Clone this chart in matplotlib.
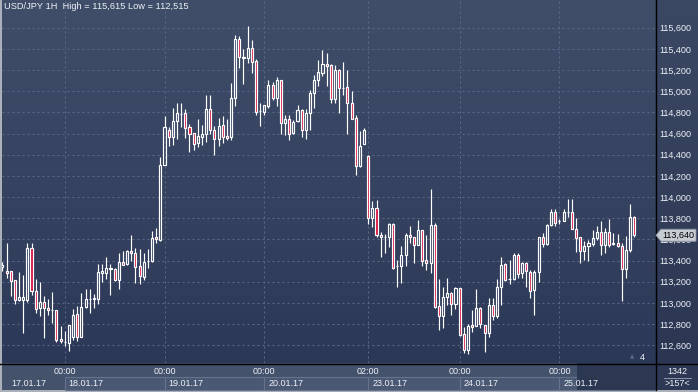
"""
USD/JPY 1H candlestick chart (17.01.17 - 25.01.17), terminal style.
"""

import numpy as np
import matplotlib
matplotlib.use("Agg")
import matplotlib.pyplot as plt
from matplotlib.colors import LinearSegmentedColormap
from matplotlib.patches import Rectangle, Polygon
from matplotlib.lines import Line2D
from matplotlib.transforms import blended_transform_factory, ScaledTranslation

plt.rcParams["font.family"] = ["Liberation Sans", "DejaVu Sans"]

# hourly candles
opens = [
    113.34, 113.30, 113.30, 113.22, 113.03, 113.03, 113.03, 113.52, 113.11, 112.95,
    113.01, 112.95, 112.935, 112.93, 112.657, 112.635, 112.62, 112.68, 112.90, 112.68,
    112.96, 113.04, 113.041, 113.035, 113.28, 113.28, 113.318, 113.32, 113.22, 113.39,
    113.365, 113.494, 113.47, 113.35, 113.25, 113.394, 113.40, 113.62, 113.595, 114.30,
    114.63, 114.565, 114.72, 114.785, 114.79, 114.66, 114.61, 114.51, 114.57, 114.60,
    114.83, 114.63, 114.545, 114.68, 114.575, 114.565, 114.94, 115.49, 115.32, 115.31,
    115.405, 115.29, 114.815, 114.805, 114.86, 115.06, 114.94, 115.105, 114.70, 114.735,
    114.61, 114.72, 114.82, 114.63, 114.79, 114.98, 115.105, 115.175, 115.255, 115.25,
    114.925, 115.205, 115.035, 115.04, 114.885, 114.745, 114.29, 114.50, 114.39, 113.80,
    113.895, 113.64, 113.622, 113.62, 113.745, 113.35, 113.35, 113.455, 113.64, 113.62,
    113.545, 113.685, 113.405, 113.375, 113.735, 112.97, 112.875, 113.055, 113.095, 112.995,
    113.14, 112.705, 112.56, 112.79, 112.78, 112.95, 112.79, 112.72, 112.98, 112.875,
    113.155, 113.37, 113.223, 113.23, 113.455, 113.28, 113.375, 113.295, 113.12, 113.295,
    113.62, 113.555, 113.735, 113.855, 113.777, 113.778, 113.862, 113.855, 113.695, 113.62,
    113.49, 113.54, 113.555, 113.61, 113.675, 113.545, 113.675, 113.555, 113.57, 113.54,
    113.32, 113.50, 113.81,
]
highs = [
    113.39, 113.57, 113.30, 113.22, 113.29, 113.26, 113.57, 113.57, 113.23, 113.20,
    113.07, 113.04, 113.10, 112.93, 112.78, 112.74, 112.79, 112.94, 112.97, 113.09,
    113.13, 113.13, 113.085, 113.37, 113.37, 113.43, 113.37, 113.33, 113.47, 113.49,
    113.50, 113.645, 113.52, 113.51, 113.47, 113.51, 113.68, 113.705, 114.38, 114.77,
    114.66, 114.84, 114.89, 114.89, 114.83, 114.69, 114.61, 114.735, 114.68, 114.965,
    114.965, 114.67, 114.745, 114.765, 114.735, 115.075, 115.53, 115.52, 115.395, 115.615,
    115.48, 115.30, 114.89, 114.87, 115.105, 115.09, 115.13, 115.105, 114.775, 114.775,
    114.73, 114.87, 114.83, 114.83, 115.01, 115.155, 115.295, 115.39, 115.36, 115.255,
    115.25, 115.21, 115.275, 115.20, 115.00, 114.775, 114.62, 114.65, 114.40, 113.965,
    113.97, 113.675, 113.65, 113.76, 113.76, 113.405, 113.54, 113.66, 113.73, 113.62,
    113.785, 113.685, 113.64, 114.075, 113.76, 113.225, 113.15, 113.235, 113.105, 113.15,
    113.14, 112.77, 112.80, 112.935, 113.13, 112.965, 112.79, 113.045, 113.045, 113.225,
    113.43, 113.38, 113.405, 113.47, 113.475, 113.39, 113.39, 113.31, 113.31, 113.625,
    113.665, 113.745, 113.885, 113.885, 113.79, 113.885, 113.98, 113.98, 113.80, 113.625,
    113.59, 113.595, 113.685, 113.725, 113.77, 113.705, 113.79, 113.665, 113.65, 113.57,
    113.63, 113.935, 113.82,
]
lows = [
    113.30, 113.24, 113.07, 112.99, 113.02, 112.72, 113.01, 113.08, 112.91, 112.88,
    112.67, 112.89, 112.81, 112.635, 112.62, 112.59, 112.55, 112.65, 112.64, 112.68,
    112.95, 112.91, 112.95, 112.99, 113.20, 113.23, 113.08, 113.21, 113.135, 113.355,
    113.36, 113.40, 113.19, 113.18, 113.22, 113.33, 113.39, 113.565, 113.59, 114.30,
    114.48, 114.49, 114.55, 114.665, 114.555, 114.43, 114.445, 114.47, 114.49, 114.52,
    114.60, 114.40, 114.48, 114.515, 114.535, 114.535, 114.86, 115.215, 115.065, 115.265,
    115.17, 114.775, 114.67, 114.775, 114.84, 114.915, 114.86, 114.60, 114.585, 114.535,
    114.60, 114.71, 114.57, 114.545, 114.635, 114.84, 115.045, 115.145, 115.045, 114.89,
    114.885, 114.79, 114.965, 114.60, 114.735, 114.21, 114.285, 114.50, 113.75, 113.72,
    113.62, 113.43, 113.475, 113.53, 113.325, 113.155, 113.19, 113.35, 113.57, 113.38,
    113.545, 113.35, 113.31, 113.28, 112.95, 112.745, 112.76, 112.98, 112.885, 112.94,
    112.69, 112.525, 112.515, 112.73, 112.78, 112.76, 112.54, 112.68, 112.84, 112.855,
    112.98, 113.21, 113.18, 113.215, 113.24, 113.24, 113.155, 113.045, 112.885, 113.20,
    113.53, 113.545, 113.725, 113.725, 113.745, 113.77, 113.815, 113.695, 113.485, 113.375,
    113.41, 113.40, 113.54, 113.595, 113.455, 113.475, 113.53, 113.545, 113.53, 113.02,
    113.24, 113.485, 113.62,
]
closes = [
    113.36, 113.28, 113.21, 113.03, 113.06, 113.06, 113.52, 113.11, 112.94, 113.01,
    112.95, 112.93, 112.93, 112.65, 112.644, 112.629, 112.79, 112.89, 112.68, 112.96,
    113.04, 113.042, 113.043, 113.29, 113.30, 113.33, 113.327, 113.22, 113.39, 113.36,
    113.49, 113.472, 113.34, 113.255, 113.39, 113.396, 113.61, 113.60, 114.30, 114.66,
    114.565, 114.72, 114.79, 114.786, 114.65, 114.60, 114.50, 114.58, 114.60, 114.83,
    114.63, 114.545, 114.67, 114.565, 114.555, 114.94, 115.49, 115.32, 115.31, 115.405,
    115.28, 114.80, 114.817, 114.87, 115.06, 114.94, 115.105, 114.70, 114.735, 114.60,
    114.71, 114.82, 114.63, 114.79, 114.98, 115.105, 115.185, 115.255, 115.24, 114.925,
    115.205, 115.03, 115.033, 114.885, 114.735, 114.29, 114.485, 114.63, 113.80, 113.895,
    113.64, 113.62, 113.62, 113.745, 113.335, 113.35, 113.455, 113.64, 113.62, 113.545,
    113.685, 113.40, 113.375, 113.735, 112.965, 112.875, 113.055, 113.095, 112.99, 113.14,
    112.70, 112.56, 112.78, 112.77, 112.95, 112.80, 112.715, 112.98, 112.875, 113.15,
    113.36, 113.215, 113.222, 113.455, 113.275, 113.375, 113.305, 113.115, 113.295, 113.62,
    113.555, 113.735, 113.855, 113.76, 113.778, 113.86, 113.863, 113.695, 113.61, 113.49,
    113.54, 113.565, 113.61, 113.675, 113.545, 113.675, 113.545, 113.57, 113.54, 113.32,
    113.50, 113.81, 113.64,
]

grid_idx = [15, 39, 63, 88, 110, 134]          # candle index of each session start
time_labels = ["00:00", "00:00", "00:00", "02:00", "00:00", "00:00"]
date_labels = ["17.01.17", "18.01.17", "19.01.17", "20.01.17",
               "23.01.17", "24.01.17", "25.01.17"]
price_ticks = [112.6, 112.8, 113.0, 113.2, 113.4, 113.6, 113.8,
               114.0, 114.2, 114.4, 114.6, 114.8, 115.0, 115.2, 115.4, 115.6]
title = "USD/JPY 1H  High = 115,615 Low = 112,515"

W, H = 698, 392
TXT = "#eef2f7"
GRID = "#5b6a87"
FS = 6.5


def fx(px):
    return px / W


def fy(py):
    return 1 - py / H


def gradient_panel(rect, top, bottom):
    """Axes filled with a vertical colour gradient, no decorations."""
    pa = fig.add_axes(rect)
    cmap = LinearSegmentedColormap.from_list("g", [bottom, top])
    pa.imshow(np.linspace(0, 1, 256).reshape(-1, 1), origin="lower",
              aspect="auto", cmap=cmap, extent=[0, 1, 0, 1])
    pa.set_axis_off()
    return pa


fig = plt.figure(figsize=(W / 100, H / 100), dpi=100)
fig.patch.set_facecolor("#aab1bb")

# right price panel (drawn before main axes so tick labels stay on top)
gradient_panel([fx(655), fy(363), fx(43), 363 / H], "#3b4863", "#2b3653")

ax = fig.add_axes([fx(2), fy(363), fx(653), 363 / H])
xlim = (-0.1, 157.0)
ylim = (112.433, 115.862)
bg = LinearSegmentedColormap.from_list("bg", ["#2c3857", "#404e6a"])
ax.imshow(np.linspace(0, 1, 256).reshape(-1, 1), origin="lower", aspect="auto",
          cmap=bg, extent=[xlim[0], xlim[1], ylim[0], ylim[1]], zorder=0)

# candles
o, h, l, c = map(np.asarray, (opens, highs, lows, closes))
x = np.arange(len(o))
top = np.maximum(o, c)
bot = np.minimum(o, c)
up = c >= o
ax.vlines(x, top, h, color="white", lw=0.85, zorder=3)
ax.vlines(x, l, bot, color="white", lw=0.85, zorder=3)
ax.bar(x, np.maximum(top - bot, 0.002), bottom=bot, width=0.5,
       color=["none" if u else "#d81540" for u in up],
       edgecolor="white", linewidth=0.85, zorder=4)

ax.set_xlim(*xlim)
ax.set_ylim(*ylim)
ax.set_xticks(grid_idx)
ax.set_xticklabels(time_labels)
ax.set_yticks(price_ticks)
ax.set_yticklabels([f"{int(round(v * 1000)):,}" for v in price_ticks])
ax.yaxis.tick_right()
ax.tick_params(axis="both", length=0, labelsize=FS, labelcolor=TXT)
ax.tick_params(axis="x", pad=3)
ax.tick_params(axis="y", pad=3)
ax.grid(True, color=GRID, lw=0.72, linestyle=(0, (2, 3)), zorder=1)
ax.set_axisbelow(True)
for s in ax.spines.values():
    s.set_visible(False)

ax.text(2 / 653, 1 - 2 / 363, title, transform=ax.transAxes, ha="left",
        va="top", fontsize=6.7, color=TXT, zorder=6)

# bottom time/date panel
fig.add_artist(Rectangle((fx(2), fy(390)), fx(653), 27 / H, transform=fig.transFigure,
                         facecolor="#45526b", edgecolor="none", zorder=-2))
bt = blended_transform_factory(ax.transData, fig.transFigure)
edges = grid_idx + [xlim[1]]
for a, b in zip(edges[:-1], edges[1:]):
    fig.add_artist(Rectangle((a, fy(390)), b - a, 13 / H, transform=bt,
                             facecolor="#4a5873", edgecolor="#66738d",
                             lw=0.8, zorder=-1.5))
fig.add_artist(Rectangle((fx(577), fy(390)), fx(78), 27 / H, transform=fig.transFigure,
                         facecolor="#2c3752", edgecolor="none", zorder=-1))

shift = ScaledTranslation(4 / 100, 0, fig.dpi_scale_trans)
fig.text(fx(11), fy(383), date_labels[0], ha="left", va="center",
         fontsize=FS, color=TXT)
for gi, lab in zip(grid_idx, date_labels[1:]):
    fig.text(gi, fy(383), lab, transform=bt + shift, ha="left", va="center",
             fontsize=FS, color=TXT)

# bottom-right counter box
fig.add_artist(Rectangle((fx(655), fy(390)), fx(43), 27 / H, transform=fig.transFigure,
                         facecolor="#2d3954", edgecolor="none", zorder=-1))
fig.text(fx(677), fy(371), "1342", ha="center", va="center", fontsize=FS, color=TXT)
fig.text(fx(677), fy(383.5), ">157<", ha="center", va="center", fontsize=FS, color=TXT)
fig.add_artist(Line2D([fx(664), fx(691)], [fy(377.5)] * 2, transform=fig.transFigure,
                      color="#8d97a8", lw=0.7))

# frame lines
fig.add_artist(Line2D([0, 1], [fy(363.5)] * 2, transform=fig.transFigure,
                      color="black", lw=1.0, zorder=5))
fig.add_artist(Line2D([fx(655.5)] * 2, [fy(390), 1], transform=fig.transFigure,
                      color="black", lw=1.0, zorder=5))

# scroll marker
fig.text(fx(632), fy(357), "\u25b2", ha="center", va="center", fontsize=4,
         color="#5f6a85", family="DejaVu Sans")
fig.text(fx(642), fy(357), "4", ha="center", va="center", fontsize=FS, color=TXT)

# last price tag (covers the 113,600 label as in the terminal)
y_last = ax.transData.transform((0, closes[-1]))[1] / H
hh = 6 / H
fig.add_artist(Polygon([(fx(656), y_last), (fx(661), y_last + hh), (fx(696), y_last + hh),
                        (fx(696), y_last - hh), (fx(661), y_last - hh)],
                       closed=True, transform=fig.transFigure,
                       facecolor="#c8ccd3", edgecolor="#9199a6", lw=0.6, zorder=6))
fig.text(fx(678), y_last, f"{int(round(closes[-1] * 1000)):,}", ha="center",
         va="center", fontsize=FS, color="black", zorder=7)

fig.savefig("out.png", dpi=100, facecolor=fig.get_facecolor())
